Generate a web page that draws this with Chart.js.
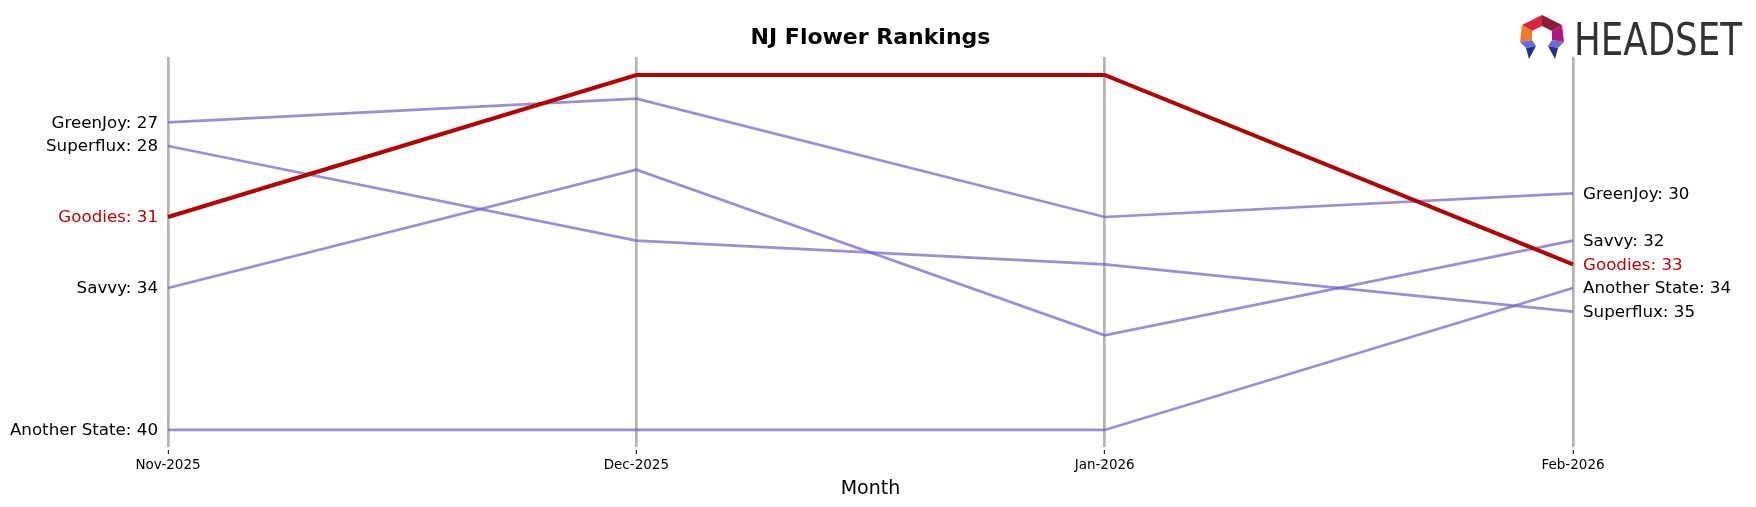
<!DOCTYPE html>
<html>
<head>
<meta charset="utf-8">
<script src="https://cdn.jsdelivr.net/npm/chart.js@4.4.1/dist/chart.umd.min.js"></script>
<style>
  html, body { margin: 0; padding: 0; background: #fff; }
</style>
</head>
<body>
<canvas id="rankChart" width="1756" height="507"></canvas>
<script>
const months = ["Nov-2025", "Dec-2025", "Jan-2026", "Feb-2026"];
const brands = ["GreenJoy", "Superflux", "Savvy", "Another State", "Goodies"];
const greenJoyRanks = [27, 26, 31, 30];
const superfluxRanks = [28, 32, 33, 35];
const savvyRanks = [34, 29, 36, 32];
const anotherStateRanks = [40, 40, 40, 34];
const goodiesRanks = [31, 25, 25, 33];
const highlight = "Goodies";

const rankSeries = [greenJoyRanks, superfluxRanks, savvyRanks, anotherStateRanks, goodiesRanks];
const purple = "rgba(112, 92, 204, 0.7)";
const red = "#b30000";

const datasets = brands.map((name, i) => ({
  label: name,
  data: rankSeries[i],
  borderColor: name === highlight ? red : purple,
  borderWidth: name === highlight ? 4 : 2.7,
  pointRadius: 0,
  tension: 0,
  order: name === highlight ? 0 : 1,
}));

function drawLogo(ctx) {
  const cx = 1542, cy = 37;
  const poly = (pts, color) => {
    ctx.beginPath();
    pts.forEach(([x, y], k) => (k ? ctx.lineTo(cx + x, cy + y) : ctx.moveTo(cx + x, cy + y)));
    ctx.closePath();
    ctx.fillStyle = color;
    ctx.fill();
  };
  poly([[-20, -12], [0, -22], [0, -11], [-10, -6]], "#d42a3c");
  poly([[0, -22], [20, -12], [10, -6], [0, -11]], "#8e1b33");
  poly([[-20, -12], [-10, -6], [-10, 3], [-22, 5]], "#f07b2b");
  poly([[20, -12], [10, -6], [10, 3], [22, 5]], "#b3177c");
  poly([[-22, 5], [-10, 3], [-6, 9], [-16, 11]], "#6a6bd8");
  poly([[-16, 11], [-6, 9], [-13, 22]], "#262f8c");
  poly([[22, 5], [10, 3], [6, 9], [16, 11]], "#6a6bd8");
  poly([[16, 11], [6, 9], [13, 22]], "#262f8c");

  ctx.save();
  ctx.font = "44px 'DejaVu Sans'";
  ctx.textAlign = "left";
  ctx.textBaseline = "alphabetic";
  ctx.fillStyle = "#333333";
  const w = ctx.measureText("HEADSET").width;
  ctx.translate(1574, 55);
  ctx.scale(168 / w, 1);
  ctx.fillText("HEADSET", 0, 0);
  ctx.restore();
}

const labelPlugin = {
  id: "rankLabels",
  afterDatasetsDraw(chart) {
    const { ctx, chartArea, scales } = chart;
    ctx.save();
    ctx.font = "16.7px 'DejaVu Sans'";
    ctx.textBaseline = "middle";
    chart.data.datasets.forEach((ds) => {
      const first = ds.data[0];
      const last = ds.data[ds.data.length - 1];
      ctx.fillStyle = ds.label === highlight ? "#c00000" : "#000000";
      ctx.textAlign = "right";
      ctx.fillText(ds.label + ": " + first, chartArea.left - 10, scales.y.getPixelForValue(first) + 1);
      ctx.textAlign = "left";
      ctx.fillText(ds.label + ": " + last, chartArea.right + 10, scales.y.getPixelForValue(last) + 1);
    });

    const mid = (chartArea.left + chartArea.right) / 2;
    ctx.fillStyle = "#000000";
    ctx.textAlign = "center";
    ctx.font = "bold 22px 'DejaVu Sans'";
    ctx.fillText("NJ Flower Rankings", mid, 38);
    ctx.font = "19px 'DejaVu Sans'";
    ctx.fillText("Month", mid, 489);

    drawLogo(ctx);
    ctx.restore();
  },
};

new Chart(document.getElementById("rankChart"), {
  type: "line",
  data: { labels: months, datasets: datasets },
  options: {
    responsive: false,
    animation: false,
    layout: { padding: { top: 57, left: 168, right: 183, bottom: 0 } },
    plugins: { legend: { display: false }, tooltip: { enabled: false }, title: { display: false } },
    scales: {
      x: {
        offset: false,
        border: { display: false },
        grid: {
          color: "#b4b4b4",
          lineWidth: 2.7,
          tickColor: "#000000",
          tickWidth: 1,
          tickLength: 7,
          tickBorderDash: [0, 3, 4, 10],
        },
        ticks: { color: "#000000", font: { family: "DejaVu Sans", size: 13.5 }, padding: 3, maxRotation: 0 },
        afterFit(scale) { scale.height = 60; },
      },
      y: { display: false, reverse: true, min: 24.24, max: 40.72 },
    },
  },
  plugins: [labelPlugin],
});
</script>
</body>
</html>
